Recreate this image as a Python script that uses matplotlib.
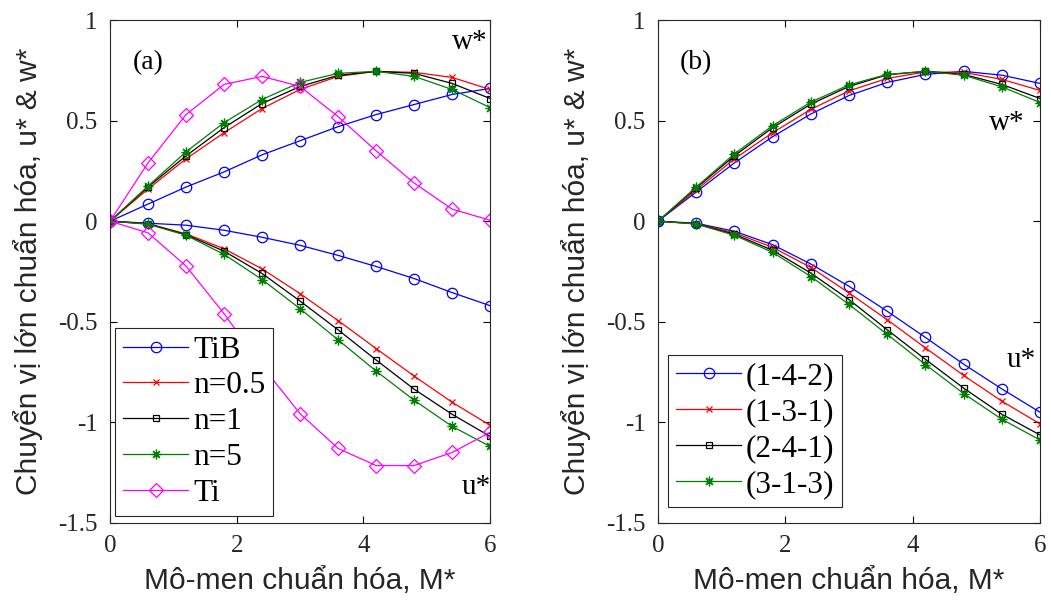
import numpy as np
import matplotlib
matplotlib.use('Agg')
import matplotlib.pyplot as plt

# normalized moment M*
M = [0, 0.6, 1.2, 1.8, 2.4, 3.0, 3.6, 4.2, 4.8, 5.4, 6.0]

# (a) material comparison
w_TiB = [0, 0.085, 0.17, 0.245, 0.33, 0.40, 0.47, 0.53, 0.58, 0.63, 0.66]
w_n05 = [0, 0.16, 0.31, 0.44, 0.56, 0.655, 0.72, 0.745, 0.74, 0.715, 0.655]
w_n1 = [0, 0.17, 0.325, 0.465, 0.585, 0.67, 0.725, 0.745, 0.735, 0.685, 0.61]
w_n5 = [0, 0.175, 0.345, 0.49, 0.605, 0.69, 0.735, 0.745, 0.72, 0.655, 0.565]
w_Ti = [0, 0.29, 0.53, 0.68, 0.72, 0.67, 0.52, 0.35, 0.19, 0.06, 0.005]

u_TiB = [0, -0.01, -0.02, -0.045, -0.08, -0.12, -0.17, -0.225, -0.285, -0.355, -0.42]
u_n05 = [0, -0.012, -0.063, -0.137, -0.237, -0.36, -0.494, -0.633, -0.77, -0.90, -1.015]
u_n1 = [0, -0.013, -0.067, -0.149, -0.26, -0.397, -0.54, -0.69, -0.835, -0.96, -1.07]
u_n5 = [0, -0.015, -0.07, -0.165, -0.29, -0.435, -0.59, -0.745, -0.89, -1.02, -1.12]
u_Ti = [0, -0.058, -0.223, -0.46, -0.72, -0.957, -1.13, -1.215, -1.215, -1.15, -1.05]

# (b) layer scheme comparison
w_142 = [0, 0.145, 0.29, 0.42, 0.533, 0.625, 0.69, 0.73, 0.745, 0.726, 0.685]
w_131 = [0, 0.155, 0.31, 0.44, 0.556, 0.648, 0.71, 0.742, 0.74, 0.705, 0.65]
w_241 = [0, 0.165, 0.325, 0.465, 0.582, 0.67, 0.728, 0.745, 0.73, 0.68, 0.61]
w_313 = [0, 0.17, 0.335, 0.475, 0.592, 0.678, 0.73, 0.745, 0.726, 0.668, 0.59]

u_142 = [0, -0.01, -0.05, -0.117, -0.213, -0.324, -0.448, -0.578, -0.711, -0.834, -0.95]
u_131 = [0, -0.012, -0.058, -0.13, -0.23, -0.357, -0.49, -0.63, -0.767, -0.895, -1.008]
u_241 = [0, -0.013, -0.065, -0.145, -0.258, -0.39, -0.54, -0.687, -0.83, -0.96, -1.063]
u_313 = [0, -0.014, -0.07, -0.155, -0.275, -0.414, -0.563, -0.713, -0.857, -0.985, -1.088]

labels_a = ['TiB', 'n=0.5', 'n=1', 'n=5', 'Ti']
labels_b = ['(1-4-2)', '(1-3-1)', '(2-4-1)', '(3-1-3)']

serif = 'Liberation Serif'
sans = 'Liberation Sans'

fig = plt.figure(figsize=(10.51, 6.08), dpi=100)
axa = fig.add_axes([0.1047, 0.140, 0.3616, 0.827])
axb = fig.add_axes([0.6261, 0.140, 0.3635, 0.827])

green = '#008000'
star = (8, 2, 0)  # matlab-like asterisk
sty_a = [('#0000FF', 'o', 7.5), ('#FF0000', 'x', 5), ('k', 's', 5), (green, star, 7), ('#FF00FF', 'D', 7)]
sty_b = sty_a[:4]

def draw(ax, ws, us, sty, labels):
    for w, u, (c, mk, ms), lab in zip(ws, us, sty, labels):
        ax.plot(M, w, color=c, marker=mk, ms=ms, mfc='none', mec=c, lw=0.9, mew=0.9, label=lab)
        ax.plot(M, u, color=c, marker=mk, ms=ms, mfc='none', mec=c, lw=0.9, mew=0.9)
    ax.set_xlim(0, 6)
    ax.set_ylim(-1.5, 1)
    ax.set_xticks([0, 2, 4, 6])
    ax.set_yticks([-1.5, -1, -0.5, 0, 0.5, 1])
    ax.set_yticklabels(['-1.5', '-1', '-0.5', '0', '0.5', '1'])
    ax.tick_params(direction='in', top=True, right=True, length=5, width=0.8, labelsize=18, pad=9)
    for t in ax.get_xticklabels() + ax.get_yticklabels():
        t.set_fontfamily(serif)
        t.set_color('#262626')
    for s in ax.spines.values():
        s.set_linewidth(0.8)
        s.set_color('#262626')
    ax.set_xlabel('Mô-men chuẩn hóa, M*', fontsize=21.5, family=sans, labelpad=7, color='#262626')
    ax.set_ylabel('Chuyển vị lớn chuẩn hóa, u* & w*', fontsize=21.5, family=sans, labelpad=11, color='#262626')

draw(axa, [w_TiB, w_n05, w_n1, w_n5, w_Ti], [u_TiB, u_n05, u_n1, u_n5, u_Ti], sty_a, labels_a)
draw(axb, [w_142, w_131, w_241, w_313], [u_142, u_131, u_241, u_313], sty_b, labels_b)

leg_a = axa.legend(loc='lower left', bbox_to_anchor=(0.013, 0.014), prop={'family': serif, 'size': 22.5},
                   frameon=True, fancybox=False, edgecolor='#262626', framealpha=1,
                   handlelength=2.1, handletextpad=0.15, borderpad=0.25, labelspacing=0.22, borderaxespad=0)
leg_a.get_frame().set_linewidth(0.8)
leg_b = axb.legend(loc='lower left', bbox_to_anchor=(0.026, 0.032), prop={'family': serif, 'size': 22.5},
                   frameon=True, fancybox=False, edgecolor='#262626', framealpha=1,
                   handlelength=2.1, handletextpad=0.15, borderpad=0.25, labelspacing=0.22, borderaxespad=0)
leg_b.get_frame().set_linewidth(0.8)

axa.text(0.6, 0.79, '(a)', family=serif, fontsize=20, ha='center', va='center')
axa.text(5.68, 0.89, 'w*', family=serif, fontsize=21, ha='center', va='center')
axa.text(5.78, -1.32, 'u*', family=serif, fontsize=21, ha='center', va='center')
axb.text(0.6, 0.79, '(b)', family=serif, fontsize=20, ha='center', va='center')
axb.text(5.48, 0.49, 'w*', family=serif, fontsize=21, ha='center', va='center')
axb.text(5.7, -0.69, 'u*', family=serif, fontsize=21, ha='center', va='center')

fig.savefig('out.png', dpi=100)
